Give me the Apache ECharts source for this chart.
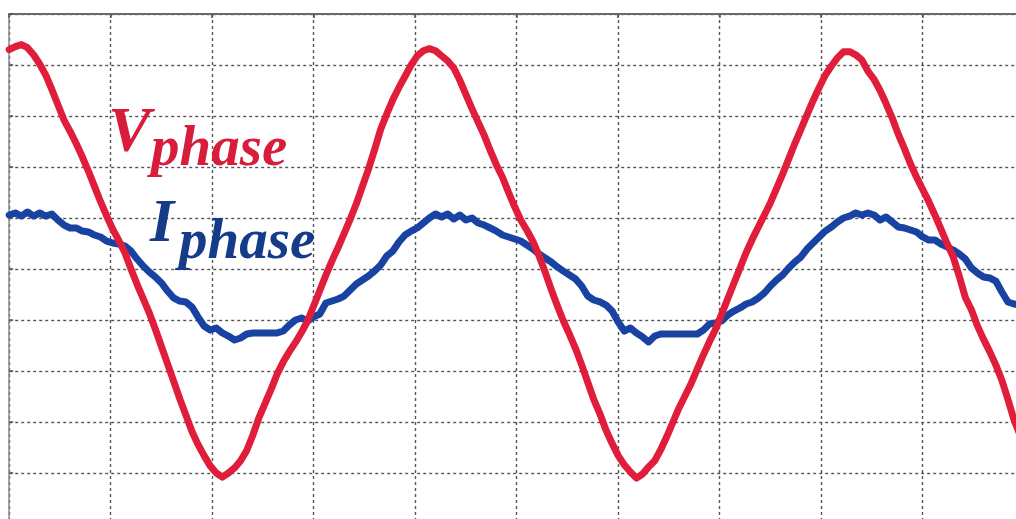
<!DOCTYPE html>
<html>
<head>
<meta charset="utf-8">
<script src="https://cdn.jsdelivr.net/npm/echarts@6/dist/echarts.min.js"></script>
<style>
html,body{margin:0;padding:0;background:#ffffff;overflow:hidden;width:1016px;height:519px;}
#chart{width:1040px;height:540px;}
</style>
</head>
<body>
<div id="chart"></div>
<script>
// Sample times (ms); 1 grid division = 5 ms
const time = [
0,0.3,0.6,0.9,1.2,1.5,1.8,2.1,2.4,2.7,
3,3.3,3.6,3.9,4.2,4.5,4.8,5.1,5.4,5.7,
6,6.3,6.6,6.9,7.2,7.5,7.8,8.1,8.4,8.7,
9,9.3,9.6,9.9,10.2,10.5,10.8,11.1,11.4,11.7,
12,12.3,12.6,12.9,13.2,13.5,13.8,14.1,14.4,14.7,
15,15.3,15.6,15.9,16.2,16.5,16.8,17.1,17.4,17.7,
18,18.3,18.6,18.9,19.2,19.5,19.8,20.1,20.4,20.7,
21,21.3,21.6,21.9,22.2,22.5,22.8,23.1,23.4,23.7,
24,24.3,24.6,24.9,25.2,25.5,25.8,26.1,26.4,26.7,
27,27.3,27.6,27.9,28.2,28.5,28.8,29.1,29.4,29.7,
30,30.3,30.6,30.9,31.2,31.5,31.8,32.1,32.4,32.7,
33,33.3,33.6,33.9,34.2,34.5,34.8,35.1,35.4,35.7,
36,36.3,36.6,36.9,37.2,37.5,37.8,38.1,38.4,38.7,
39,39.3,39.6,39.9,40.2,40.5,40.8,41.1,41.4,41.7,
42,42.3,42.6,42.9,43.2,43.5,43.8,44.1,44.4,44.7,
45,45.3,45.6,45.9,46.2,46.5,46.8,47.1,47.4,47.7,
48,48.3,48.6,48.9,49.2,49.5,49.8
];

// Phase voltage (V); 1 division = 50 V
const vPhase = [
215,218,220,217,210,201,190,176,161,146,
135,123,110,96,81,66,52,39,28,16,
0,-15,-29,-43,-59,-76,-93,-110,-127,-143,
-159,-172,-183,-193,-200,-204,-200,-195,-188,-178,
-163,-146,-132,-118,-103,-91,-81,-72,-62,-51,
-36,-21,-6,8,21,35,49,64,81,98,
117,137,152,166,178,189,200,209,214,216,
214,209,204,197,185,171,157,144,131,116,
102,90,75,61,48,38,27,13,-3,-20,
-36,-51,-64,-78,-94,-111,-128,-142,-158,-171,
-183,-192,-199,-205,-201,-194,-188,-177,-164,-150,
-136,-124,-112,-98,-84,-71,-59,-44,-29,-14,
1,16,29,41,53,65,79,93,108,123,
137,151,165,178,190,199,207,213,213,210,
205,194,186,175,162,148,132,118,103,90,
78,66,53,39,25,12,-7,-28,-40,-56,
-69,-81,-94,-109,-128,-148,-163
];

// Phase current (A); 1 division = 5 A
const iPhase = [
5.29,5.49,5.19,5.59,5.19,5.49,5.19,5.39,4.80,4.31,
4.02,4.02,3.72,3.63,3.33,3.14,2.74,2.55,2.45,2.25,
1.76,0.98,0.29,-0.29,-0.78,-1.37,-2.16,-2.84,-3.14,-3.23,
-3.72,-4.70,-5.59,-5.98,-5.78,-6.27,-6.57,-6.96,-6.76,-6.37,
-6.27,-6.27,-6.27,-6.27,-6.27,-6.08,-5.49,-5.00,-4.80,-5.10,
-4.70,-4.41,-3.33,-3.14,-2.94,-2.65,-2.06,-1.47,-1.08,-0.69,
-0.20,0.39,1.27,1.76,2.65,3.33,3.72,4.02,4.51,5.00,
5.39,5.10,5.39,4.90,5.29,4.80,5.00,4.51,4.31,4.02,
3.72,3.33,3.14,2.94,2.74,2.35,1.96,1.47,1.08,0.69,
0.20,-0.20,-0.59,-0.98,-1.67,-2.65,-3.04,-3.23,-3.53,-4.12,
-5.19,-6.08,-5.78,-6.27,-6.66,-7.15,-6.57,-6.37,-6.37,-6.37,
-6.37,-6.37,-6.37,-6.37,-5.98,-5.39,-5.29,-5.10,-4.51,-4.12,
-3.82,-3.43,-3.23,-2.84,-2.35,-1.67,-1.08,-0.59,0.10,0.69,
1.18,1.96,2.55,3.14,3.72,4.12,4.61,5.00,5.19,5.49,
5.29,5.49,5.29,4.80,5.10,4.61,4.12,4.02,3.82,3.63,
3.14,2.84,2.84,2.45,2.16,1.86,1.47,0.98,0.10,-0.39,
-0.78,-0.88,-1.18,-2.25,-3.23,-3.43,-3.53
];

const labelMain = { v: 'V', i: 'I' };
const labelSub = 'phase';

const RED = '#e01d3a';
const BLUE = '#1843a2';
const RED_TXT = '#d81c3c';
const BLUE_TXT = '#163b88';
const GRIDC = '#555555';

const chart = echarts.init(document.getElementById('chart'), null, { renderer: 'canvas' });

const dashed = { show: true, lineStyle: { type: [3, 3], color: GRIDC, width: 1.4 } };

const option = {
  backgroundColor: '#ffffff',
  animation: false,
  grid: { left: 9.2, top: 14, width: 1015, height: 510, show: false },
  xAxis: {
    type: 'value', min: 0, max: 50, interval: 5, position: 'top',
    axisLine: { show: true, onZero: false, lineStyle: { color: '#6a6a6a', width: 2 } },
    axisTick: { show: true, inside: true, length: 4, lineStyle: { color: '#555', width: 1.5 } },
    axisLabel: { show: false },
    splitLine: dashed
  },
  yAxis: [
    {
      type: 'value', min: -250, max: 250, interval: 50, position: 'left',
      axisLine: { show: true, onZero: false, lineStyle: { color: '#8a8a8a', width: 1.5 } },
      axisTick: { show: true, inside: true, length: 4, lineStyle: { color: '#555', width: 1.5 } },
      axisLabel: { show: false },
      splitLine: dashed
    },
    { type: 'value', min: -25, max: 25, interval: 5, show: false, splitLine: { show: false } }
  ],
  series: [
    {
      name: 'I phase', type: 'line', yAxisIndex: 1, z: 2,
      data: time.map((t, k) => [t, iPhase[k]]),
      showSymbol: false, symbol: 'none', smooth: false,
      lineStyle: { color: BLUE, width: 7, join: 'round', cap: 'round' }
    },
    {
      name: 'V phase', type: 'line', yAxisIndex: 0, z: 3,
      data: time.map((t, k) => [t, vPhase[k]]),
      showSymbol: false, symbol: 'none', smooth: false,
      lineStyle: { color: RED, width: 7, join: 'round', cap: 'round' }
    }
  ],
  graphic: [
    { type: 'text', z: 10, style: { x: 108, y: 134, text: labelMain.v, font: 'italic bold 64px "Liberation Serif"', fill: RED_TXT, align: 'left', verticalAlign: 'middle' } },
    { type: 'text', z: 10, style: { x: 151, y: 150, text: labelSub, font: 'italic bold 57px "Liberation Serif"', fill: RED_TXT, align: 'left', verticalAlign: 'middle' } },
    { type: 'text', z: 10, style: { x: 150, y: 225, text: labelMain.i, font: 'italic bold 62px "Liberation Serif"', fill: BLUE_TXT, align: 'left', verticalAlign: 'middle' } },
    { type: 'text', z: 10, style: { x: 179, y: 243, text: labelSub, font: 'italic bold 57px "Liberation Serif"', fill: BLUE_TXT, align: 'left', verticalAlign: 'middle' } }
  ]
};

chart.setOption(option);
</script>
</body>
</html>
